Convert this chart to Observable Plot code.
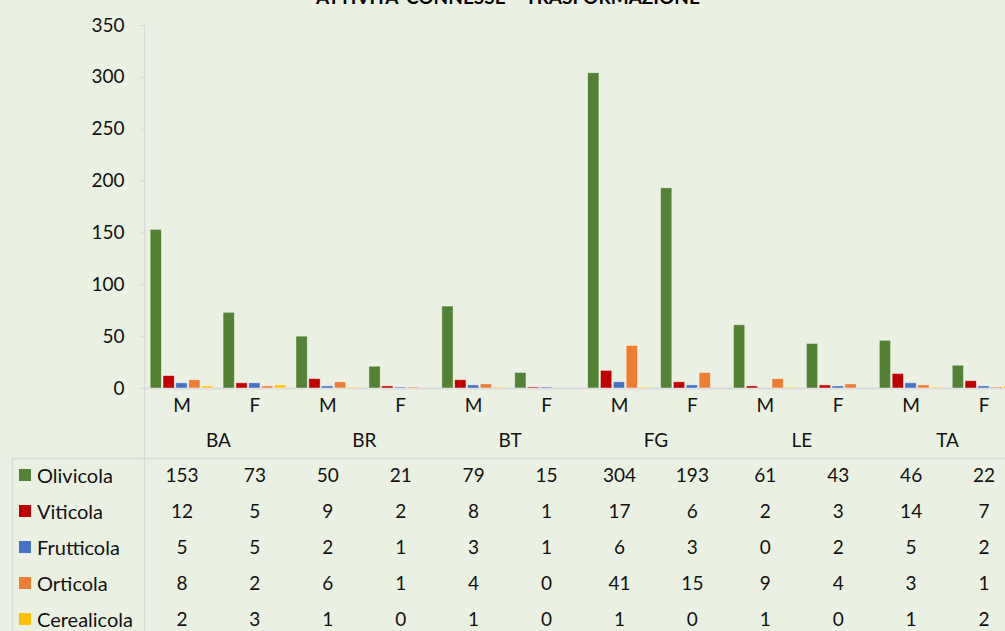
<!DOCTYPE html>
<html>
<head>
<meta charset="utf-8">
<script src="https://cdn.jsdelivr.net/npm/d3@7"></script>
<script src="https://cdn.jsdelivr.net/npm/@observablehq/plot@0.6"></script>
<style>
  html, body { margin: 0; padding: 0; background: #ebf1e2; overflow: hidden; width: 1005px; height: 631px; }
  #wrap { position: relative; width: 1005px; height: 631px; overflow: hidden; font-family: Lato, "Open Sans", sans-serif; color: #000; }
  #title { position: absolute; left: 0; top: -13px; width: 1016px; text-align: center; font-weight: bold; font-size: 19px; line-height: 19px; white-space: nowrap; }
  #chart { position: absolute; left: 0; top: 0; }
  #chart svg { max-width: none !important; display: block; }
  #legend { position: absolute; left: 0; top: 457px; width: 145px; }
  .lrow { position: absolute; left: 19px; height: 36px; display: flex; align-items: center; font-size: 20px; white-space: nowrap; color: #111; }
  .sw { width: 12px; height: 12px; margin-right: 6px; flex: none; }
</style>
</head>
<body>
<div id="wrap">
  <div id="chart"></div>
  <div id="legend"></div>
  <div id="title">ATTIVITA' CONNESSE – TRASFORMAZIONE</div>
</div>
<script>
// ---- data ----
const regions = ["BA", "BR", "BT", "FG", "LE", "TA"];
const sexes = ["M", "F"];
const series = ["Olivicola", "Viticola", "Frutticola", "Orticola", "Cerealicola"];
const colors = ["#548235", "#c00000", "#4472c4", "#ed7d31", "#ffc000"];
const olivicola   = [153, 73, 50, 21, 79, 15, 304, 193, 61, 43, 46, 22];
const viticola    = [12, 5, 9, 2, 8, 1, 17, 6, 2, 3, 14, 7];
const frutticola  = [5, 5, 2, 1, 3, 1, 6, 3, 0, 2, 5, 2];
const orticola    = [8, 2, 6, 1, 4, 0, 41, 15, 9, 4, 3, 1];
const cerealicola = [2, 3, 1, 0, 1, 0, 1, 0, 1, 0, 1, 2];
const yTicks = [0, 50, 100, 150, 200, 250, 300, 350];

// ---- derived tables ----
const seriesValues = [olivicola, viticola, frutticola, orticola, cerealicola];
const columns = regions.flatMap(r => sexes.map(s => ({region: r, sex: s, key: r + " " + s})));
const keys = columns.map(c => c.key);
const data = series.flatMap((name, i) =>
  columns.map((c, j) => ({...c, series: name, value: seriesValues[i][j]})));

const rowStart = 87, rowStep = 36;
const font = 19;

const marks = [
  Plot.axisY({ticks: yTicks, tickSize: 5, tickPadding: 16, stroke: "#d9d9d9", fill: "#111",
               fontSize: font, label: null, tickFormat: d => d}),
  Plot.ruleY([0], {stroke: "#d9d9d9", strokeWidth: 2}),
  Plot.barY(data, {fx: "key", x: "series", y: "value", fill: "series",
                   stroke: "#ffffff", strokeOpacity: 0.55, strokeWidth: 0.8}),
  Plot.text(columns, {fx: "key", text: "sex", frameAnchor: "bottom", dy: 17,
                      lineAnchor: "middle", fontSize: font, fill: "#111"}),
  Plot.text(columns.filter(c => c.sex === "M"), {fx: "key", text: "region", frameAnchor: "bottom-right",
                      dy: 52, textAnchor: "middle", lineAnchor: "middle", fontSize: font, fill: "#111"}),
  ...series.map((name, i) =>
    Plot.text(data.filter(d => d.series === name), {fx: "key", text: d => String(d.value),
      frameAnchor: "bottom", dy: rowStart + rowStep * i, lineAnchor: "middle", fontSize: font, fill: "#111"}))
];

const chart = Plot.plot({
  width: 1020,
  height: 631,
  marginLeft: 145,
  marginRight: 0,
  marginTop: 25,
  marginBottom: 243,
  style: {background: "transparent", fontFamily: "Lato, 'Open Sans', sans-serif", color: "#111", overflow: "visible"},
  fx: {domain: keys, padding: 0, round: false, axis: null, label: null},
  x: {domain: series, paddingInner: 0.12, paddingOuter: 0.4, round: false, axis: null},
  y: {domain: [0, 350], label: null},
  color: {domain: series, range: colors},
  marks
});
document.getElementById("chart").appendChild(chart);

// table / axis decoration lines
const svgSel = d3.select(chart);
const yScale = chart.scale("y");
const axisTop = yScale.apply(350);
const lines = [
  [144.5, axisTop, 144.5, 631],
  [12, 458.5, 1020, 458.5],
  [12.5, 458, 12.5, 631]
];
svgSel.append("g").selectAll("line").data(lines).join("line")
  .attr("x1", d => d[0]).attr("y1", d => d[1]).attr("x2", d => d[2]).attr("y2", d => d[3])
  .attr("stroke", "#d9d9d9").attr("stroke-width", 1.5);

// legend column of the data table
const legend = d3.select("#legend");
series.forEach((name, i) => {
  const row = legend.append("div").attr("class", "lrow").style("top", (i * rowStep) + "px");
  row.append("div").attr("class", "sw").style("background", colors[i]);
  row.append("span").text(name);
});
</script>
</body>
</html>
